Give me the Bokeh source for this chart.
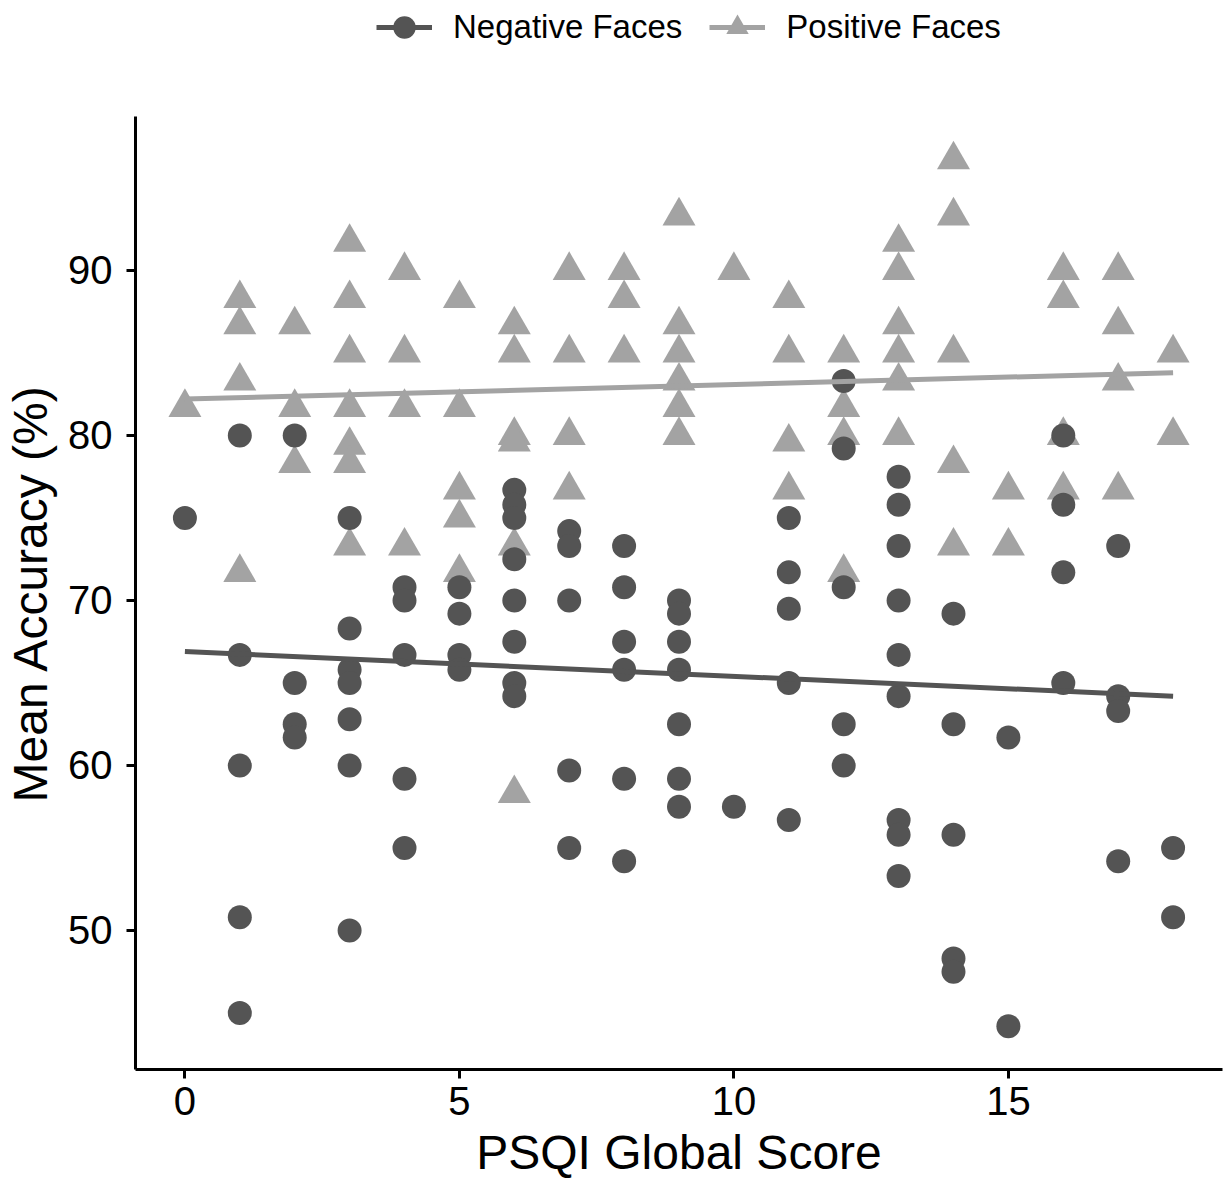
from bokeh.plotting import figure
from bokeh.models import Legend, LegendItem, Range1d, FixedTicker
from bokeh.layouts import column
from bokeh.embed import file_html
from bokeh.resources import INLINE

# ---- data: PSQI score (x) and mean accuracy (%) per participant ----
neg_x = [0,
         1, 1, 1, 1, 1,
         2, 2, 2, 2,
         3, 3, 3, 3, 3, 3, 3,
         4, 4, 4, 4, 4,
         5, 5, 5, 5,
         6, 6, 6, 6, 6, 6, 6, 6,
         7, 7, 7, 7, 7,
         8, 8, 8, 8, 8, 8,
         9, 9, 9, 9, 9, 9, 9,
         10,
         11, 11, 11, 11, 11,
         12, 12, 12, 12, 12,
         13, 13, 13, 13, 13, 13, 13, 13, 13,
         14, 14, 14, 14, 14,
         15, 15,
         16, 16, 16, 16,
         17, 17, 17, 17,
         18, 18]
neg_y = [75,
         80, 66.7, 60, 50.8, 45,
         80, 65, 62.5, 61.7,
         75, 68.3, 65.8, 65, 62.8, 60, 50,
         70.8, 70, 66.7, 59.2, 55,
         70.8, 69.2, 66.7, 65.8,
         76.7, 75.8, 75, 72.5, 70, 67.5, 65, 64.2,
         74.2, 73.3, 70, 59.7, 55,
         73.3, 70.8, 67.5, 65.8, 59.2, 54.2,
         70, 69.2, 67.5, 65.8, 62.5, 59.2, 57.5,
         57.5,
         75, 71.7, 69.5, 65, 56.7,
         83.3, 79.2, 70.8, 62.5, 60,
         77.5, 75.8, 73.3, 70, 66.7, 64.2, 56.7, 55.8, 53.3,
         69.2, 62.5, 55.8, 48.3, 47.5,
         61.7, 44.2,
         80, 75.8, 71.7, 65,
         73.3, 64.2, 63.3, 54.2,
         55, 50.8]

pos_x = [0,
         1, 1, 1, 1,
         2, 2, 2,
         3, 3, 3, 3, 3, 3, 3,
         4, 4, 4, 4,
         5, 5, 5, 5, 5,
         6, 6, 6, 6, 6, 6,
         7, 7, 7, 7,
         8, 8, 8,
         9, 9, 9, 9, 9, 9,
         10,
         11, 11, 11, 11,
         12, 12, 12, 12,
         13, 13, 13, 13, 13, 13,
         14, 14, 14, 14, 14,
         15, 15,
         16, 16, 16, 16,
         17, 17, 17, 17,
         18, 18]
pos_y = [81.7,
         88.3, 86.7, 83.3, 71.7,
         86.7, 81.7, 78.3,
         91.7, 88.3, 85, 81.7, 79.4, 78.3, 73.3,
         90, 85, 81.7, 73.3,
         88.3, 81.7, 76.7, 75, 71.7,
         86.7, 85, 80, 79.6, 73.3, 58.3,
         90, 85, 80, 76.7,
         90, 88.3, 85,
         93.3, 86.7, 85, 83.3, 81.7, 80,
         90,
         88.3, 85, 79.6, 76.7,
         85, 81.7, 80, 71.7,
         91.7, 90, 86.7, 85, 83.3, 80,
         96.7, 93.3, 85, 78.3, 73.3,
         76.7, 73.3,
         90, 88.3, 80, 76.7,
         90, 86.7, 83.3, 76.7,
         85, 80]

# linear fits at x = 0 and x = 18
fit_x = [0, 18]
neg_fit = [66.9, 64.2]
pos_fit = [82.2, 83.8]

x_ticks = [0, 5, 10, 15]
y_ticks = [50, 60, 70, 80, 90]
series_labels = ["Negative Faces", "Positive Faces"]

NEG_COL = "#545454"
POS_COL = "#A3A3A3"
FONT = "Liberation Sans"

# ---------------- legend strip (top) ----------------
# the strip's ranges are far away from the data, so its copies of the
# series are only used to draw the legend keys
lg = figure(width=1228, height=116, x_range=Range1d(1000, 1001), y_range=Range1d(1000, 1001),
            output_backend="svg", toolbar_location=None,
            x_axis_type=None, y_axis_type=None,
            min_border_left=0, min_border_right=0,
            min_border_top=0, min_border_bottom=0)
lg.grid.visible = False
lg.outline_line_color = None
lg.background_fill_color = "white"
lg.border_fill_color = "white"

lg_neg_line = lg.line(fit_x, neg_fit, line_color=NEG_COL, line_width=5)
lg_neg_pts = lg.scatter(neg_x, neg_y, marker="circle", fill_color=NEG_COL, line_color=None)
lg_pos_line = lg.line(fit_x, pos_fit, line_color=POS_COL, line_width=5)
lg_pos_pts = lg.scatter(pos_x, pos_y, marker="triangle", fill_color=POS_COL, line_color=None)

legend = Legend(items=[
    LegendItem(label=series_labels[0], renderers=[lg_neg_line, lg_neg_pts]),
    LegendItem(label=series_labels[1], renderers=[lg_pos_line, lg_pos_pts]),
], orientation="horizontal", location=(241, 58))
legend.padding = 0
legend.margin = 0
legend.border_line_color = None
legend.background_fill_alpha = 0
legend.glyph_width = 56
legend.glyph_height = 62
legend.label_height = 62
legend.label_standoff = 21
legend.spacing = 27
legend.label_text_font = FONT
legend.label_text_font_size = "33px"
legend.label_text_color = "black"
lg.add_layout(legend, "center")

# ---------------- main scatter plot ----------------
p = figure(width=1228, height=1066,
           x_range=Range1d(-0.9, 18.9), y_range=Range1d(41.575, 99.325),
           output_backend="svg", toolbar_location=None,
           min_border_left=135, min_border_right=6,
           min_border_top=0, min_border_bottom=113)
p.grid.visible = False
p.outline_line_color = None
p.background_fill_color = "white"
p.border_fill_color = "white"

p.xaxis.ticker = FixedTicker(ticks=x_ticks)
p.yaxis.ticker = FixedTicker(ticks=y_ticks)
p.xaxis.axis_label = "PSQI Global Score"
p.yaxis.axis_label = "Mean Accuracy (%)"
for ax in p.axis:
    ax.axis_line_color = "black"
    ax.axis_line_width = 3
    ax.major_tick_line_color = "black"
    ax.major_tick_line_width = 3
    ax.major_tick_out = 9
    ax.major_tick_in = 0
    ax.minor_tick_out = 0
    ax.minor_tick_in = 0
    ax.major_label_text_font = FONT
    ax.major_label_text_font_size = "40px"
    ax.major_label_text_color = "black"
    ax.axis_label_text_font = FONT
    ax.axis_label_text_font_size = "48px"
    ax.axis_label_text_font_style = "normal"
    ax.axis_label_text_color = "black"
p.xaxis.major_label_standoff = 8
p.xaxis.axis_label_standoff = 8
p.yaxis.major_label_standoff = 14
p.yaxis.axis_label_standoff = 8

p.scatter(pos_x, pos_y, marker="triangle", size=33,
          fill_color=POS_COL, line_color=None)
p.scatter(neg_x, neg_y, marker="circle", size=24,
          fill_color=NEG_COL, line_color=None)
p.line(fit_x, pos_fit, line_color=POS_COL, line_width=5)
p.line(fit_x, neg_fit, line_color=NEG_COL, line_width=5)

layout = column(lg, p, spacing=0)
open("out.html", "w").write(file_html(layout, INLINE))
